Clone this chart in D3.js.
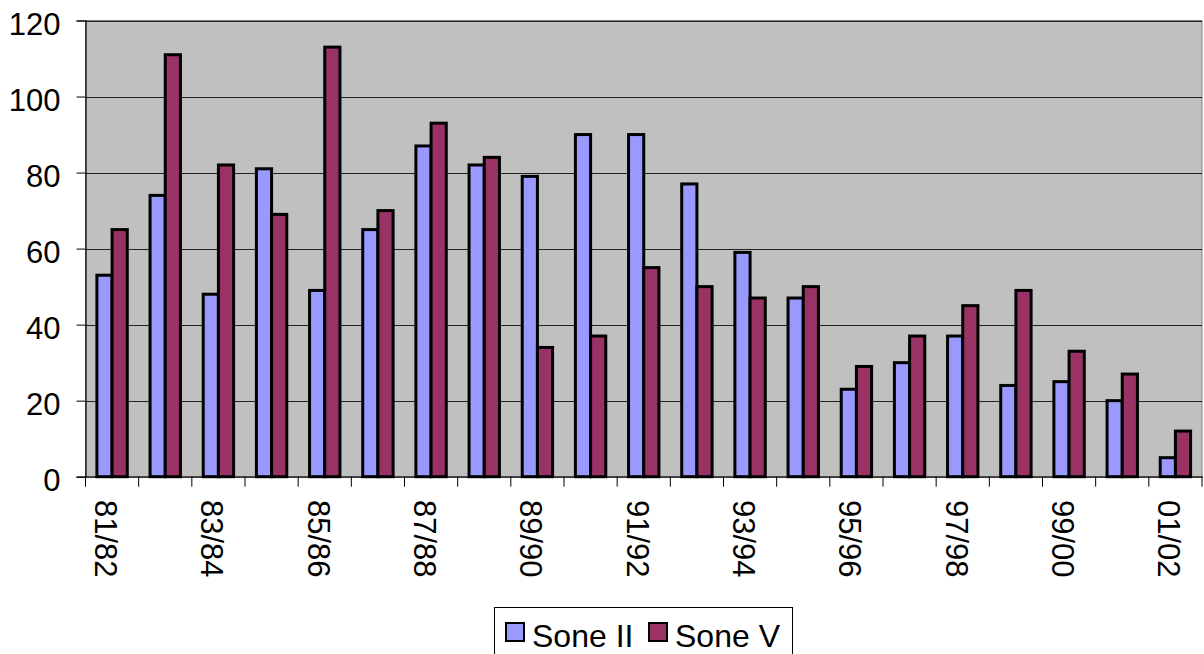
<!DOCTYPE html>
<html lang="en">
<head>
<meta charset="UTF-8" />
<title>Sone II / Sone V</title>
<script src="https://d3js.org/d3.v7.min.js"></script>
<style>
    body {
        margin: 0;
        background: #ffffff;
        font-family: Arial, "Liberation Sans", sans-serif;
    }
    svg text {
        font-family: Arial, "Liberation Sans", sans-serif;
        fill: #000;
    }
</style>
</head>
<body>
<svg id="chart" width="1204" height="654"></svg>
<script>
    // Data
    const seasons = ["81/82", "82/83", "83/84", "84/85", "85/86", "86/87", "87/88",
        "88/89", "89/90", "90/91", "91/92", "92/93", "93/94", "94/95",
        "95/96", "96/97", "97/98", "98/99", "99/00", "00/01", "01/02"];
    const soneII = [53, 74, 48, 81, 49, 65, 87, 82, 79, 90, 90, 77, 59, 47, 23, 30, 37, 24, 25, 20, 5];
    const soneV = [65, 111, 82, 69, 113, 70, 93, 84, 34, 37, 55, 50, 47, 50, 29, 37, 45, 49, 33, 27, 12];
    const seriesNames = ["Sone II", "Sone V"];
    const seriesColors = ["#9999FF", "#993366"];
    const yTicks = [0, 20, 40, 60, 80, 100, 120];

    const svg = d3.select("#chart");
    const plot = { left: 85.5, top: 20.5, right: 1202, bottom: 476.7 };

    const x = d3.scaleBand()
        .domain(seasons)
        .range([plot.left, plot.right])
        .padding(0);

    // two bars per category, gap width 150%
    const barW = x.bandwidth() / 3.5;
    const xSub = d3.scaleBand()
        .domain(seriesNames)
        .range([barW * 0.75, barW * 2.75])
        .padding(0);

    const y = d3.scaleLinear()
        .domain([0, 120])
        .range([plot.bottom, plot.top]);

    // plot area
    svg.append("rect")
        .attr("x", plot.left)
        .attr("y", plot.top)
        .attr("width", plot.right - plot.left)
        .attr("height", plot.bottom - plot.top)
        .attr("fill", "#C0C0C0")
        .attr("stroke", "#808080")
        .attr("stroke-width", 1);

    // gridlines
    svg.append("g")
        .selectAll("line")
        .data(yTicks.filter(d => d > 0))
        .join("line")
        .attr("x1", plot.left)
        .attr("x2", plot.right)
        .attr("y1", d => Math.round(y(d)) + 0.5)
        .attr("y2", d => Math.round(y(d)) + 0.5)
        .attr("stroke", "#222")
        .attr("stroke-width", 1.2);

    // bars
    const rows = seasons.map((s, i) => ({ season: s, values: [soneII[i], soneV[i]] }));
    const group = svg.append("g")
        .selectAll("g")
        .data(rows)
        .join("g")
        .attr("transform", d => `translate(${x(d.season)},0)`);

    group.selectAll("rect")
        .data(d => d.values.map((v, k) => ({ name: seriesNames[k], value: v, color: seriesColors[k] })))
        .join("rect")
        .attr("x", d => xSub(d.name))
        .attr("y", d => y(d.value))
        .attr("width", xSub.bandwidth())
        .attr("height", d => y(0) - y(d.value))
        .attr("fill", d => d.color)
        .attr("stroke", "#000")
        .attr("stroke-width", 3);

    // y axis
    const yAxis = svg.append("g")
        .attr("transform", `translate(${plot.left},0)`)
        .call(d3.axisLeft(y).tickValues(yTicks).tickSize(9).tickPadding(16));
    yAxis.select(".domain").attr("stroke", "#000").attr("stroke-width", 1.2);
    yAxis.selectAll(".tick line").attr("stroke", "#000");
    yAxis.selectAll(".tick text")
        .attr("font-size", "31px")
        .attr("dy", "0.45em");

    // x axis
    const xAxis = svg.append("g")
        .attr("transform", `translate(0,${plot.bottom})`)
        .call(d3.axisBottom(x).tickValues([]).tickSizeOuter(0));
    xAxis.select(".domain").attr("stroke", "#000").attr("stroke-width", 1.2);

    svg.append("g")
        .selectAll("line")
        .data(seasons.concat(["end"]))
        .join("line")
        .attr("x1", (d, i) => plot.left + i * x.step())
        .attr("x2", (d, i) => plot.left + i * x.step())
        .attr("y1", plot.bottom)
        .attr("y2", plot.bottom + 10)
        .attr("stroke", "#000");

    // category labels, every other one, rotated
    svg.append("g")
        .selectAll("text")
        .data(seasons.filter((d, i) => i % 2 === 0))
        .join("text")
        .attr("transform", d => `translate(${x(d) + x.bandwidth() / 2 - 17},500) rotate(90)`)
        .attr("font-size", "31px")
        .text(d => d);

    // legend
    const legend = svg.append("g");
    legend.append("rect")
        .attr("x", 494.5)
        .attr("y", 607.5)
        .attr("width", 298)
        .attr("height", 60)
        .attr("fill", "#fff")
        .attr("stroke", "#000")
        .attr("stroke-width", 1);

    const legendX = [505, 648];
    seriesNames.forEach((name, k) => {
        legend.append("rect")
            .attr("x", legendX[k] + 1)
            .attr("y", 623)
            .attr("width", 18)
            .attr("height", 18)
            .attr("fill", seriesColors[k])
            .attr("stroke", "#000")
            .attr("stroke-width", 2);
        legend.append("text")
            .attr("x", legendX[k] + 27)
            .attr("y", 647)
            .attr("font-size", "32px")
            .text(name);
    });
</script>
</body>
</html>
